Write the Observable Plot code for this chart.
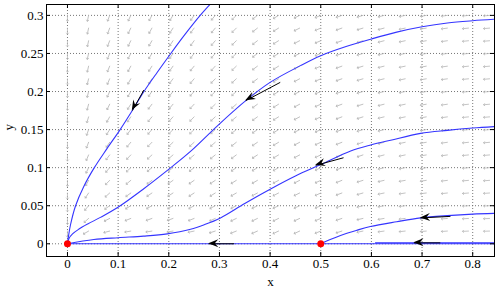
<!DOCTYPE html>
<html>
<head>
<meta charset="utf-8">
<script src="https://cdn.jsdelivr.net/npm/d3@7"></script>
<script src="https://cdn.jsdelivr.net/npm/@observablehq/plot@0.6"></script>
<style>
  html, body { margin: 0; padding: 0; background: #fff; }
</style>
</head>
<body>
<div id="chart"></div>
<script>
// Tick labels
const xTicks = [0, 0.1, 0.2, 0.3, 0.4, 0.5, 0.6, 0.7, 0.8];
const yTicks = [0, 0.05, 0.1, 0.15, 0.2, 0.25, 0.3];

// Trajectories
const curveA_x = [0, 0.002, 0.006, 0.016, 0.032, 0.053, 0.078, 0.104, 0.128, 0.151, 0.177, 0.204, 0.232, 0.262, 0.292];
const curveA_y = [0, 0.01, 0.025, 0.05, 0.075, 0.1, 0.125, 0.15, 0.175, 0.2, 0.225, 0.25, 0.275, 0.3, 0.322];
const curveB_x = [0, 0.003, 0.01, 0.022, 0.04, 0.066, 0.102, 0.15, 0.204, 0.244, 0.296, 0.352, 0.40, 0.46, 0.5, 0.55, 0.6, 0.65, 0.7, 0.75, 0.8, 0.845];
const curveB_y = [0, 0.007, 0.013, 0.019, 0.026, 0.035, 0.049, 0.072, 0.1, 0.122, 0.155, 0.188, 0.212, 0.234, 0.247, 0.259, 0.269, 0.278, 0.285, 0.29, 0.293, 0.295];
const curveC_x = [0, 0.052, 0.1, 0.15, 0.197, 0.243, 0.27, 0.302, 0.35, 0.401, 0.45, 0.5, 0.559, 0.6, 0.638, 0.697, 0.75, 0.8, 0.845];
const curveC_y = [0, 0.0056, 0.008, 0.010, 0.013, 0.019, 0.025, 0.034, 0.053, 0.072, 0.089, 0.104, 0.122, 0.13, 0.136, 0.145, 0.149, 0.152, 0.154];
const curveD_x = [0.5, 0.52, 0.539, 0.57, 0.598, 0.65, 0.697, 0.75, 0.8, 0.845];
const curveD_y = [0, 0.006, 0.011, 0.0175, 0.0227, 0.029, 0.034, 0.037, 0.039, 0.04];
const curveE_x = [0, 0.845];
const curveE_y = [0, 0];
const curveF_x = [0.608, 0.845];
const curveF_y = [0.0012, 0.0012];

// Direction arrows on trajectories (tip / tail)
const arrowTipX = [0.128, 0.352, 0.49, 0.697, 0.279, 0.684];
const arrowTipY = [0.175, 0.188, 0.103, 0.034, 0, 0.0012];
const arrowTailX = [0.151, 0.42, 0.545, 0.756, 0.329, 0.736];
const arrowTailY = [0.202, 0.212, 0.113, 0.036, 0, 0.0012];

// Equilibria
const eqX = [0, 0.5];
const eqY = [0, 0];

// Direction field grid
const fieldX = [0, 0.0417, 0.0833, 0.125, 0.1667, 0.2083, 0.25, 0.2917, 0.3333, 0.375, 0.4167, 0.4583, 0.5, 0.5417, 0.5833, 0.625, 0.6667, 0.7083, 0.75, 0.7917, 0.8333];
const fieldY = [0.0167, 0.0333, 0.05, 0.0667, 0.0833, 0.1, 0.1167, 0.1333, 0.15, 0.1667, 0.1833, 0.2, 0.2167, 0.2333, 0.25, 0.2667, 0.2833, 0.3];
// angle (degrees) below the leftward horizontal, per row (fieldY) and column (fieldX)
const fieldAngle = [
  [90,30,15,10,9,9,12,18,22,24,25,25,22,18,12,8,6,5,4,3,2],
  [90,42,27,22,20,20,22,25,26,26,26,25,23,19,13,10,7,6,5,4,3],
  [90,50,36,32,30,30,30,29,28,27,26,25,24,20,14,11,8,6,5,4,3],
  [90,56,42,36,34,33,33,32,30,28,27,26,25,21,16,12,9,7,6,5,4],
  [90,61,46,40,37,36,35,34,32,30,28,27,25,22,17,13,10,8,7,5,4],
  [90,65,50,44,40,38,38,37,35,32,30,28,26,23,19,15,12,10,8,6,5],
  [90,67,53,47,43,41,40,39,37,33,31,28,25,22,19,15,12,10,8,6,5],
  [90,69,56,50,46,44,42,41,38,34,31,28,25,22,18,15,12,10,8,6,5],
  [90,71,58,53,49,46,44,42,39,35,32,28,25,21,18,15,12,10,8,6,5],
  [90,73,61,56,51,48,46,43,40,36,32,28,25,21,18,14,12,10,8,6,5],
  [90,75,64,58,53,50,47,44,41,36,32,28,24,20,17,14,12,10,8,6,5],
  [90,76,66,60,55,52,48,45,42,36,32,28,24,20,17,14,12,10,8,6,5],
  [90,76,67,61,57,53,50,46,43,37,32,28,24,20,17,14,12,10,8,6,5],
  [90,77,68,62,58,55,51,48,44,37,32,27,23,20,17,14,12,10,8,6,5],
  [90,77,68,63,59,56,53,49,44,38,32,27,23,20,17,14,12,10,8,6,5],
  [90,78,69,64,60,57,54,50,45,38,32,27,23,20,17,15,12,10,8,6,5],
  [90,78,70,64,61,57,54,51,45,38,32,27,23,20,17,15,12,10,8,6,5],
  [90,78,70,65,62,58,55,51,45,38,32,27,23,20,17,15,12,10,8,6,5]
];

// ---- build tables ----
const field = [];
fieldY.forEach((y, r) => fieldX.forEach((x, c) => field.push({x, y, rot: 270 - fieldAngle[r][c]})));

const curves = [];
[[curveA_x, curveA_y, "A"], [curveB_x, curveB_y, "B"], [curveC_x, curveC_y, "C"],
 [curveD_x, curveD_y, "D"], [curveE_x, curveE_y, "E"], [curveF_x, curveF_y, "F"]]
  .forEach(([xs, ys, k]) => xs.forEach((x, i) => curves.push({x, y: ys[i], k})));

const arrows = arrowTipX.map((_, i) => ({x1: arrowTailX[i], y1: arrowTailY[i], x2: arrowTipX[i], y2: arrowTipY[i]}));
const eq = eqX.map((x, i) => ({x, y: eqY[i]}));

const blue = "#3535ff";
const gridStyle = {stroke: "#666", strokeDasharray: "1,2", strokeWidth: 0.9};

function arrowHeads(index, scales) {
  const g = d3.create("svg:g");
  arrows.forEach(a => {
    const tx = scales.x(a.x2), ty = scales.y(a.y2);
    const sx = scales.x(a.x1), sy = scales.y(a.y1);
    const dx = tx - sx, dy = ty - sy, L = Math.hypot(dx, dy);
    const ux = dx / L, uy = dy / L, px = -uy, py = ux;
    const hl = 10, hw = 4, notch = 6.5;
    const pts = [
      [tx, ty],
      [tx - ux * hl + px * hw, ty - uy * hl + py * hw],
      [tx - ux * notch, ty - uy * notch],
      [tx - ux * hl - px * hw, ty - uy * hl - py * hw]
    ];
    g.append("path").attr("d", "M" + pts.map(p => p.join(",")).join("L") + "Z").attr("fill", "black");
  });
  return g.node();
}

const frameH = 290 - 4 - 34;
const frameW = 496 - 46 - 2;

const chart = Plot.plot({
  width: 496,
  height: 290,
  marginLeft: 46,
  marginRight: 2,
  marginTop: 4,
  marginBottom: 34,
  style: {fontFamily: "Liberation Serif, Times New Roman, serif", fontSize: "13px", background: "white", color: "black"},
  x: {domain: [-0.0414, 0.843], ticks: xTicks, tickSize: 0, tickPadding: 2, tickFormat: d => String(d), label: null},
  y: {domain: [-0.0167, 0.3143], ticks: yTicks, tickSize: 0, tickPadding: 3, tickFormat: d => String(d), label: null},
  marks: [
    Plot.ruleX(xTicks, gridStyle),
    Plot.ruleY(yTicks, gridStyle),
    Plot.vector(field, {x: "x", y: "y", rotate: "rot", length: 6, anchor: "start", r: 3, stroke: "#b8b8b8", strokeWidth: 0.8}),
    Plot.line(curves, {x: "x", y: "y", z: "k", stroke: blue, strokeWidth: 1.1, curve: "catmull-rom", clip: true}),
    Plot.link(arrows, {x1: "x1", y1: "y1", x2: "x2", y2: "y2", stroke: "black", strokeWidth: 1}),
    arrowHeads,
    Plot.dot(eq, {x: "x", y: "y", r: 3.5, fill: "red", stroke: "none"}),
    Plot.frame({stroke: "black", strokeWidth: 1}),
    // inward tick marks on all four sides
    Plot.ruleX(xTicks, {stroke: "black", insetTop: frameH - 4}),
    Plot.ruleX(xTicks, {stroke: "black", insetBottom: frameH - 4}),
    Plot.ruleY(yTicks, {stroke: "black", insetRight: frameW - 4}),
    Plot.ruleY(yTicks, {stroke: "black", insetLeft: frameW - 4}),
    Plot.text(["x"], {frameAnchor: "bottom", dy: 25, lineAnchor: "middle", text: d => d, fontSize: 13}),
    Plot.text(["y"], {frameAnchor: "left", dx: -38, rotate: -90, lineAnchor: "middle", text: d => d, fontSize: 13})
  ]
});
document.getElementById("chart").appendChild(chart);
</script>
</body>
</html>
